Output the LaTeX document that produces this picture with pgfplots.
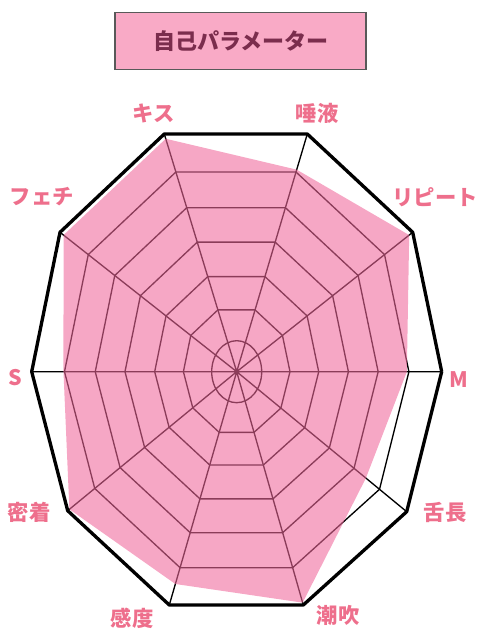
\documentclass[border=0pt]{standalone}
\usepackage{fontspec}
\setmainfont{Noto Sans CJK JP}
\usepackage{pgfplots}
\usepackage{pgfplotstable}
\pgfplotsset{compat=1.18}

\definecolor{radarfill}{RGB}{240,104,155}
\definecolor{boxfill}{RGB}{249,170,198}
\definecolor{titletext}{RGB}{123,45,77}
\definecolor{labeltext}{RGB}{238,111,140}

\tikzset{
  gridline/.style={black, line width=1pt},
  lab/.style={font=\bfseries\fontsize{16pt}{17pt}\selectfont, text=labeltext},
}

% outer vertex of each axis (px from centre, y up) and its value (fraction)
\pgfplotstableread{
x y v
205 0 0.83
176 139.4 0.98
70.6 237.7 0.85
-72.4 237.7 0.98
-176.7 139.4 0.98
-205 0 0.845
-169 -139 0.99
-67.4 -233.3 0.91
66.6 -233.3 0.99
170 -140 0.76
205 0 0.83
}\radar

\pgfplotstableread{
x y
0 0
205 0
nan nan
0 0
176 139.4
nan nan
0 0
70.6 237.7
nan nan
0 0
-72.4 237.7
nan nan
0 0
-176.7 139.4
nan nan
0 0
-205 0
nan nan
0 0
-169 -139
nan nan
0 0
-67.4 -233.3
nan nan
0 0
66.6 -233.3
nan nan
0 0
170 -140
}\spokes

\begin{document}
\begin{tikzpicture}
\path[use as bounding box] (0,0) rectangle (360pt,480pt);
\begin{axis}[
  at={(0,0)}, anchor=south west,
  scale only axis, width=360pt, height=480pt,
  xmin=-236.7, xmax=243.3, ymin=-268.3, ymax=371.7,
  hide axis, clip=false,
  unbounded coords=jump,
]
% grid
\addplot[gridline, no markers] table {\spokes};
\pgfplotsinvokeforeach{0.26,0.40,0.545,0.69,0.84}{
  \addplot[gridline, no markers] table[x expr=\thisrow{x}*#1, y expr=\thisrow{y}*#1] {\radar};
}
\draw[gridline] (axis cs:0,0) ellipse [x radius=25, y radius=31];
% data
\addplot[draw=none, fill=radarfill, fill opacity=0.58]
  table[x expr=\thisrow{x}*\thisrow{v}, y expr=\thisrow{y}*\thisrow{v}] {\radar};
% outer frame
\addplot[black, line width=2.5pt, line join=round, no markers] table {\radar};

% title
\draw[fill=boxfill, draw=black!65, line width=0.8pt]
  (axis cs:-121.7,302.4) rectangle (axis cs:129.3,359.4);
\node[font=\bfseries\fontsize{16.5pt}{17pt}\selectfont, text=titletext]
  at (axis cs:4.3,330.7) {自己パラメーター};

% axis labels
\node[lab] at (axis cs:-82.7,258.7) {キス};
\node[lab] at (axis cs:80.3,258.7) {唾液};
\node[lab] at (axis cs:-194.7,174.7) {フェチ};
\node[lab] at (axis cs:198.3,174.7) {リピート};
\node[lab] at (axis cs:-221.7,-6.3) {S};
\node[lab] at (axis cs:222.3,-8.3) {M};
\node[lab] at (axis cs:-207.7,-140.3) {密着};
\node[lab] at (axis cs:208.3,-140.3) {舌長};
\node[lab] at (axis cs:-104.7,-246.3) {感度};
\node[lab] at (axis cs:101.3,-243.3) {潮吹};
\end{axis}
\end{tikzpicture}
\end{document}
